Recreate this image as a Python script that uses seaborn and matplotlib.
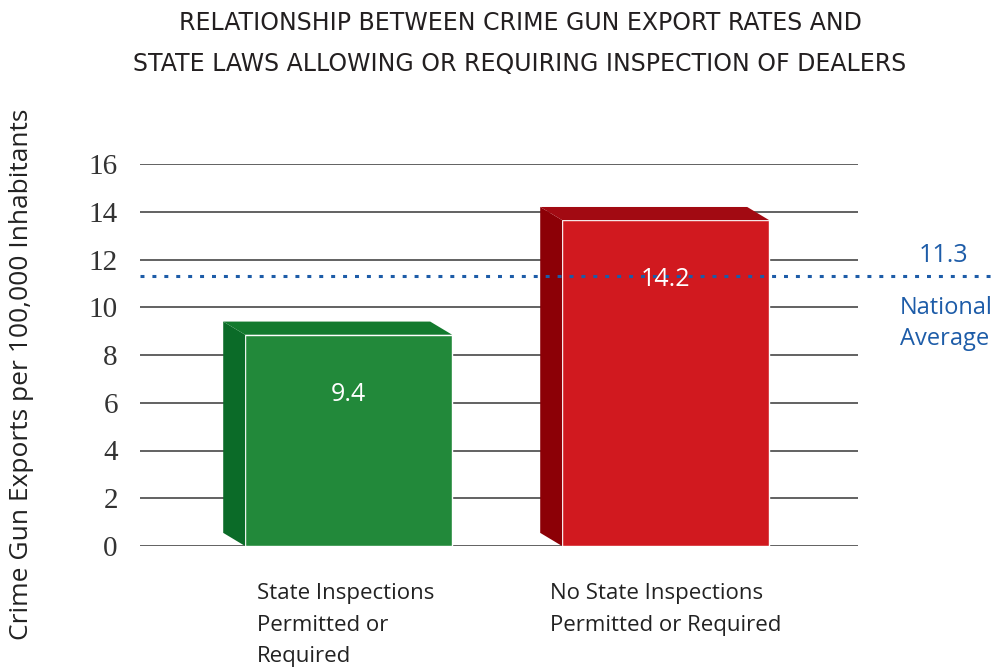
# -*- coding: utf-8 -*-
'''crime gun export rates vs state inspection laws'''

import matplotlib
matplotlib.use('Agg')
import matplotlib.pyplot as plt
from matplotlib.patches import Polygon
import seaborn as sns
import pandas as pd

# data
categories = ['State Inspections\nPermitted or\nRequired',
              'No State Inspections\nPermitted or Required']
rates = [9.4, 14.2]
value_labels = ['9.4', '14.2']
national_avg = 11.3
yticks = [0, 2, 4, 6, 8, 10, 12, 14, 16]

front_colors = ['#22893A', '#D1191F']
side_colors = ['#0B6B28', '#8C0006']
top_colors = ['#137A2E', '#A20A12']
blue = '#1D5CA8'
SANS = ['Open Sans', 'DejaVu Sans']


def main():
    sns.set_style('white')
    plt.rcParams['font.family'] = SANS

    fig = plt.figure(figsize=(9.96, 6.71), dpi=100)
    ax = fig.add_axes([140 / 996, 1 - 546 / 671, 718 / 996, 382 / 671])

    df = pd.DataFrame({'group': categories, 'rate': rates})
    sns.barplot(data=df, x='group', y='rate', hue='group', palette=front_colors,
                saturation=1, width=0.653, legend=False, ax=ax, zorder=3)

    ax.set_xlim(-0.658, 1.607)
    ax.set_ylim(0, 16)

    # fake 3d depth: front face drops, side + top faces go back/left
    dx, dy = -0.069, 0.55
    for i, p in enumerate(ax.patches):
        x0 = p.get_x()
        w = p.get_width()
        h = p.get_height()
        p.set_height(h - dy)
        top = h - dy
        side = Polygon([(x0, 0), (x0 + dx, dy), (x0 + dx, h), (x0, top)],
                       closed=True, facecolor=side_colors[i], edgecolor='none', zorder=3)
        lid = Polygon([(x0, top), (x0 + dx, h), (x0 + w + dx, h), (x0 + w, top)],
                      closed=True, facecolor=top_colors[i], edgecolor='none', zorder=3)
        ax.add_patch(side)
        ax.add_patch(lid)
        ax.text(x0 + w / 2, top - 2.5, value_labels[i], color='white',
                ha='center', va='center', fontsize=18, zorder=5)

    # grid lines
    for t in yticks:
        ax.axhline(t, color='#555555', lw=1.3, zorder=1)
    ax.set_yticks(yticks)
    ax.set_yticklabels([str(t) for t in yticks], family=['Liberation Serif'],
                       fontsize=21, color='#333333')
    ax.tick_params(axis='y', length=0, pad=16)
    ax.set_xticks([])
    ax.set_xlabel('')
    ax.set_ylabel('')
    sns.despine(ax=ax, left=True, bottom=True)

    # national average
    ax.plot([-0.658, 2.03], [national_avg, national_avg], color=blue, lw=2.2,
            ls=(0, (1.3, 2.6)), clip_on=False, zorder=4)
    fig.text(943 / 996, 1 - 256 / 671, str(national_avg), color=blue,
             fontsize=18, ha='center', va='center')
    fig.text(900 / 996, 1 - 296 / 671, 'National\nAverage', color=blue,
             fontsize=17, ha='left', va='top', linespacing=1.4)

    # category labels
    fig.text(257 / 996, 1 - 583 / 671, categories[0], fontsize=16, color='#222222',
             ha='left', va='top', linespacing=1.66)
    fig.text(550 / 996, 1 - 583 / 671, categories[1], fontsize=16, color='#222222',
             ha='left', va='top', linespacing=1.66)

    fig.text(22 / 996, 1 - 374 / 671, 'Crime Gun Exports per 100,000 Inhabitants',
             rotation=90, fontsize=19, color='#222222', ha='center', va='center')

    fig.text(520 / 996, 1 - 23 / 671,
             'RELATIONSHIP BETWEEN CRIME GUN EXPORT RATES AND',
             fontsize=17, color='#231F20', ha='center', va='center',
             family=['DejaVu Sans'])
    fig.text(520 / 996, 1 - 64 / 671,
             'STATE LAWS ALLOWING OR REQUIRING INSPECTION OF DEALERS',
             fontsize=17, color='#231F20', ha='center', va='center',
             family=['DejaVu Sans'])

    fig.savefig('out.png', dpi=100)


if __name__ == "__main__":
    main()
